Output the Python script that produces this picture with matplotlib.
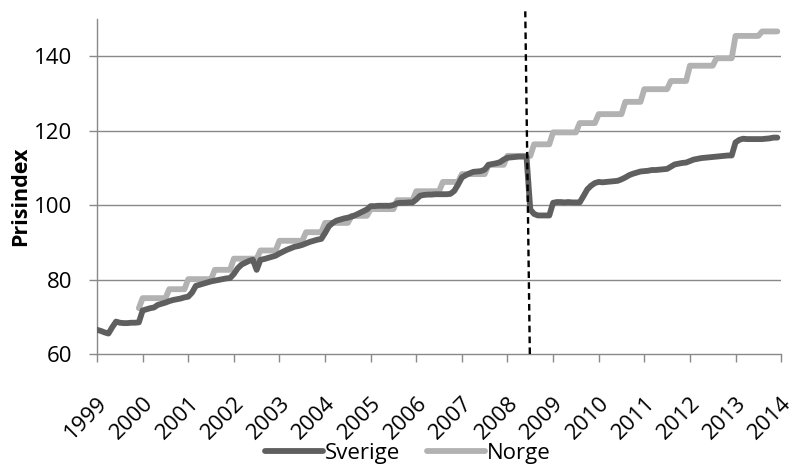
import numpy as np
import matplotlib.pyplot as plt
import matplotlib.transforms as mtrans

plt.rcParams['font.family'] = ['Open Sans', 'DejaVu Sans']

# månadsvärden, jan-dec per år
sverige = [
    66.5, 66.2, 65.8, 65.5, 67.2, 68.7, 68.4, 68.3, 68.3, 68.4, 68.4, 68.5,   # 1999
    71.7, 72.0, 72.3, 72.5, 73.2, 73.5, 73.8, 74.2, 74.5, 74.7, 74.9, 75.2,   # 2000
    75.4, 76.5, 78.3, 78.6, 78.9, 79.2, 79.5, 79.7, 79.9, 80.1, 80.3, 80.4,   # 2001
    81.5, 83.0, 84.0, 84.5, 85.0, 85.3, 82.6, 85.3, 85.5, 85.8, 86.1, 86.4,   # 2002
    87.0, 87.5, 88.0, 88.4, 88.8, 89.0, 89.3, 89.7, 90.1, 90.4, 90.7, 90.9,   # 2003
    92.5, 94.3, 95.2, 95.8, 96.1, 96.4, 96.6, 96.9, 97.3, 97.8, 98.3, 98.8,   # 2004
    99.7, 99.7, 99.8, 99.8, 99.8, 99.8, 100.0, 100.5, 100.6, 100.6, 100.7, 100.7,  # 2005
    101.5, 102.5, 102.7, 102.8, 102.8, 102.9, 102.9, 102.9, 102.9, 103.0, 103.8, 105.5,  # 2006
    107.4, 108.0, 108.5, 108.9, 109.0, 109.1, 109.5, 110.8, 111.0, 111.2, 111.5, 112.2,  # 2007
    112.7, 112.8, 112.9, 113.0, 113.0, 113.0, 98.8, 97.6, 97.2, 97.2, 97.2, 97.2,  # 2008
    100.6, 100.8, 100.8, 100.7, 100.8, 100.7, 100.7, 100.7, 102.4, 104.2, 105.2, 105.9,  # 2009
    106.2, 106.1, 106.2, 106.3, 106.4, 106.5, 106.9, 107.4, 108.0, 108.4, 108.7, 109.0,  # 2010
    109.1, 109.2, 109.4, 109.4, 109.5, 109.6, 109.7, 110.3, 110.9, 111.1, 111.3, 111.4,  # 2011
    111.8, 112.2, 112.4, 112.6, 112.7, 112.8, 112.9, 113.0, 113.1, 113.2, 113.3, 113.3,  # 2012
    116.8, 117.5, 117.8, 117.7, 117.7, 117.7, 117.7, 117.7, 117.8, 117.9, 118.1, 118.1,  # 2013
]

nan = np.nan
norge = [
    nan, nan, nan, nan, nan, nan, nan, nan, nan, nan, nan, 72.3,   # 1999
    75.0, 75.0, 75.0, 75.0, 75.0, 75.0, 75.0, 77.4, 77.4, 77.4, 77.4, 77.4,   # 2000
    80.1, 80.1, 80.1, 80.1, 80.1, 80.1, 80.1, 82.6, 82.6, 82.6, 82.6, 82.6,   # 2001
    85.6, 85.6, 85.6, 85.6, 85.6, 85.6, 85.6, 87.8, 87.8, 87.8, 87.8, 87.8,   # 2002
    90.4, 90.4, 90.4, 90.4, 90.4, 90.4, 90.4, 92.7, 92.7, 92.7, 92.7, 92.7,   # 2003
    95.2, 95.2, 95.2, 95.2, 95.2, 95.2, 95.2, 97.1, 97.1, 97.1, 97.1, 97.1,   # 2004
    98.9, 98.9, 98.9, 98.9, 98.9, 98.9, 98.9, 101.3, 101.3, 101.3, 101.3, 101.3,  # 2005
    103.7, 103.7, 103.7, 103.7, 103.7, 103.7, 103.7, 106.2, 106.2, 106.2, 106.2, 106.2,  # 2006
    108.3, 108.3, 108.3, 108.3, 108.3, 108.3, 108.3, 110.8, 110.8, 110.8, 110.8, 110.8,  # 2007
    113.2, 113.2, 113.2, 113.2, 113.2, 113.2, 113.2, 116.3, 116.3, 116.3, 116.3, 116.3,  # 2008
    119.5, 119.5, 119.5, 119.5, 119.5, 119.5, 119.5, 122.0, 122.0, 122.0, 122.0, 122.0,  # 2009
    124.4, 124.4, 124.4, 124.4, 124.4, 124.4, 124.4, 127.7, 127.7, 127.7, 127.7, 127.7,  # 2010
    131.1, 131.1, 131.1, 131.1, 131.1, 131.1, 131.1, 133.3, 133.3, 133.3, 133.3, 133.3,  # 2011
    137.4, 137.4, 137.4, 137.4, 137.4, 137.4, 137.4, 139.4, 139.4, 139.4, 139.4, 139.4,  # 2012
    145.4, 145.4, 145.4, 145.4, 145.4, 145.4, 145.4, 146.6, 146.6, 146.6, 146.6, 146.6,  # 2013
]

years = list(range(1999, 2015))
start_year = 1999
yticks = [60, 80, 100, 120, 140]
# streckad linje vid krisen 2008
cut_x = (2008.49, 2008.39)
cut_y = (60, 152)

t = start_year + np.arange(len(sverige)) / 12.0

fig = plt.figure(figsize=(7.89, 4.66), dpi=100)
ax = fig.add_axes([0.123, 0.2403, 0.867, 0.7194])

grid_col = '#898989'
for v in yticks[1:]:
    ax.axhline(v, color=grid_col, lw=1.0, zorder=1)

ax.plot(t, sverige, color='#5f5f5f', lw=4.2, label='Sverige', zorder=3,
        solid_joinstyle='round', solid_capstyle='round')
ax.plot(t, norge, color='#b2b2b2', lw=4.2, label='Norge', zorder=2,
        solid_joinstyle='round', solid_capstyle='round')

ax.plot(cut_x, cut_y, color='black', lw=1.7, ls=(0, (2.8, 1.8)), clip_on=False, zorder=4)

ax.set_xlim(1999, 2014)
ax.set_ylim(60, 150)
ax.set_xticks(years)
ax.set_xticklabels([str(y) for y in years], rotation=45, ha='right', va='top',
                   rotation_mode='anchor')
ax.set_yticks(yticks)

# årtalen flyttas lite åt vänster
shift = mtrans.ScaledTranslation(-7 / 100, 0, fig.dpi_scale_trans)
for lab in ax.get_xticklabels():
    lab.set_transform(lab.get_transform() + shift)

for s in ['top', 'right']:
    ax.spines[s].set_visible(False)
for s in ['left', 'bottom']:
    ax.spines[s].set_color(grid_col)
    ax.spines[s].set_linewidth(1.0)

ax.tick_params(axis='x', length=6, width=1, color=grid_col, labelsize=16, pad=22)
ax.tick_params(axis='y', length=6, width=1, color=grid_col, labelsize=16, pad=12)

ax.set_ylabel('Prisindex', fontsize=15.5, fontweight='bold')
ax.yaxis.set_label_coords(-0.097, 0.469)

fig.legend(loc='lower center', bbox_to_anchor=(0.517, -0.038), ncol=2, frameon=False,
           fontsize=16, handlelength=2.6, handletextpad=0.1, columnspacing=1.2)

fig.savefig('out.png', dpi=100)
